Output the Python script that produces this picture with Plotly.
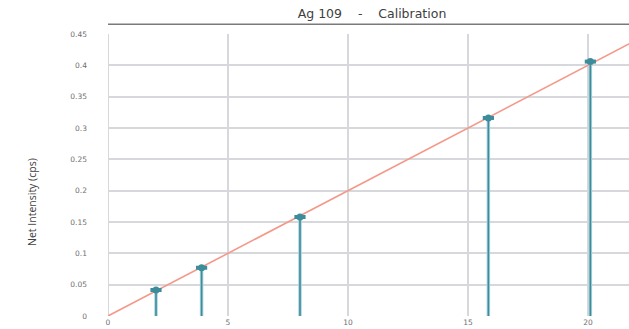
import plotly.graph_objects as go

# Calibration standards (concentration vs net intensity)
conc = [2.0, 3.9, 8.0, 15.85, 20.1]
intensity = [0.0415, 0.077, 0.158, 0.316, 0.406]

# Fitted calibration line
fit_x = [0.0, 22.0]
fit_y = [0.0, 0.44]

x_ticks = [0, 5, 10, 15, 20]
y_ticks = [0, 0.05, 0.1, 0.15, 0.2, 0.25, 0.3, 0.35, 0.4, 0.45]
y_tick_text = ["0", "0.05", "0.1", "0.15", "0.2", "0.25", "0.3", "0.35", "0.4", "0.45"]

teal = "#3d8c9c"
salmon = "#f4998a"
grid = "#d6d8dc"
tick_font = dict(family="DejaVu Sans, sans-serif", size=7.5, color="#6f6f6f")

stem_x, stem_y = [], []
for cx, cy in zip(conc, intensity):
    stem_x += [cx, cx, None]
    stem_y += [0, cy, None]

fig = go.Figure()
fig.add_trace(go.Scatter(x=stem_x, y=stem_y, mode="lines",
                         line=dict(color="#a9d3dc", width=3.5), hoverinfo="skip"))
fig.add_trace(go.Scatter(x=stem_x, y=stem_y, mode="lines",
                         line=dict(color=teal, width=1.6), hoverinfo="skip"))
fig.add_trace(go.Scatter(x=fit_x, y=fit_y, mode="lines",
                         line=dict(color=salmon, width=1.6)))
# slightly flattened dots: a round marker plus a thin horizontal bar
fig.add_trace(go.Scatter(x=conc, y=intensity, mode="markers",
                         marker=dict(symbol="line-ew", size=8,
                                     line=dict(width=4, color=teal))))
fig.add_trace(go.Scatter(x=conc, y=intensity, mode="markers",
                         marker=dict(symbol="circle", size=7, color=teal,
                                     line=dict(width=0))))

fig.update_layout(
    width=629, height=329,
    margin=dict(l=108, r=0, t=34, b=13),
    paper_bgcolor="white", plot_bgcolor="white",
    showlegend=False,
    font=dict(family="DejaVu Sans, sans-serif", color="#595959"),
    title=dict(text="Ag 109&nbsp;&nbsp;&nbsp;&nbsp;-&nbsp;&nbsp;&nbsp;&nbsp;Calibration",
               x=(372 - 108) / 521, xanchor="center", xref="paper",
               y=0.958, yanchor="middle",
               font=dict(family="DejaVu Sans, sans-serif", size=12.5, color="#404040")),
)

fig.update_xaxes(range=[0, 21.71], tickvals=x_ticks,
                 showgrid=True, gridcolor=grid, gridwidth=2,
                 zeroline=False, showline=False,
                 tickfont=tick_font, ticks="")
fig.update_yaxes(range=[0, 0.45], tickvals=y_ticks, ticktext=y_tick_text,
                 showgrid=True, gridcolor=grid, gridwidth=1.5,
                 zeroline=False, showline=False,
                 tickfont=tick_font, ticks="",
                 ticklabelstandoff=20)

# left frame line at x = 0
fig.add_shape(type="line", xref="x", yref="paper", x0=0, x1=0, y0=0, y1=1,
              line=dict(color=grid, width=2), layer="below")
# rule under the title
fig.add_shape(type="line", xref="paper", yref="paper", x0=0, x1=1,
              y0=1.035, y1=1.035, line=dict(color="#7a7a7a", width=1.5))

fig.add_annotation(text="Net Intensity (cps)", textangle=-90,
                   xref="paper", yref="paper", x=(23 - 108) / 521,
                   y=(316 - 202) / 282,
                   showarrow=False,
                   font=dict(family="Open Sans, sans-serif", size=10.5, color="#404040"))

fig.write_html("out.html")
